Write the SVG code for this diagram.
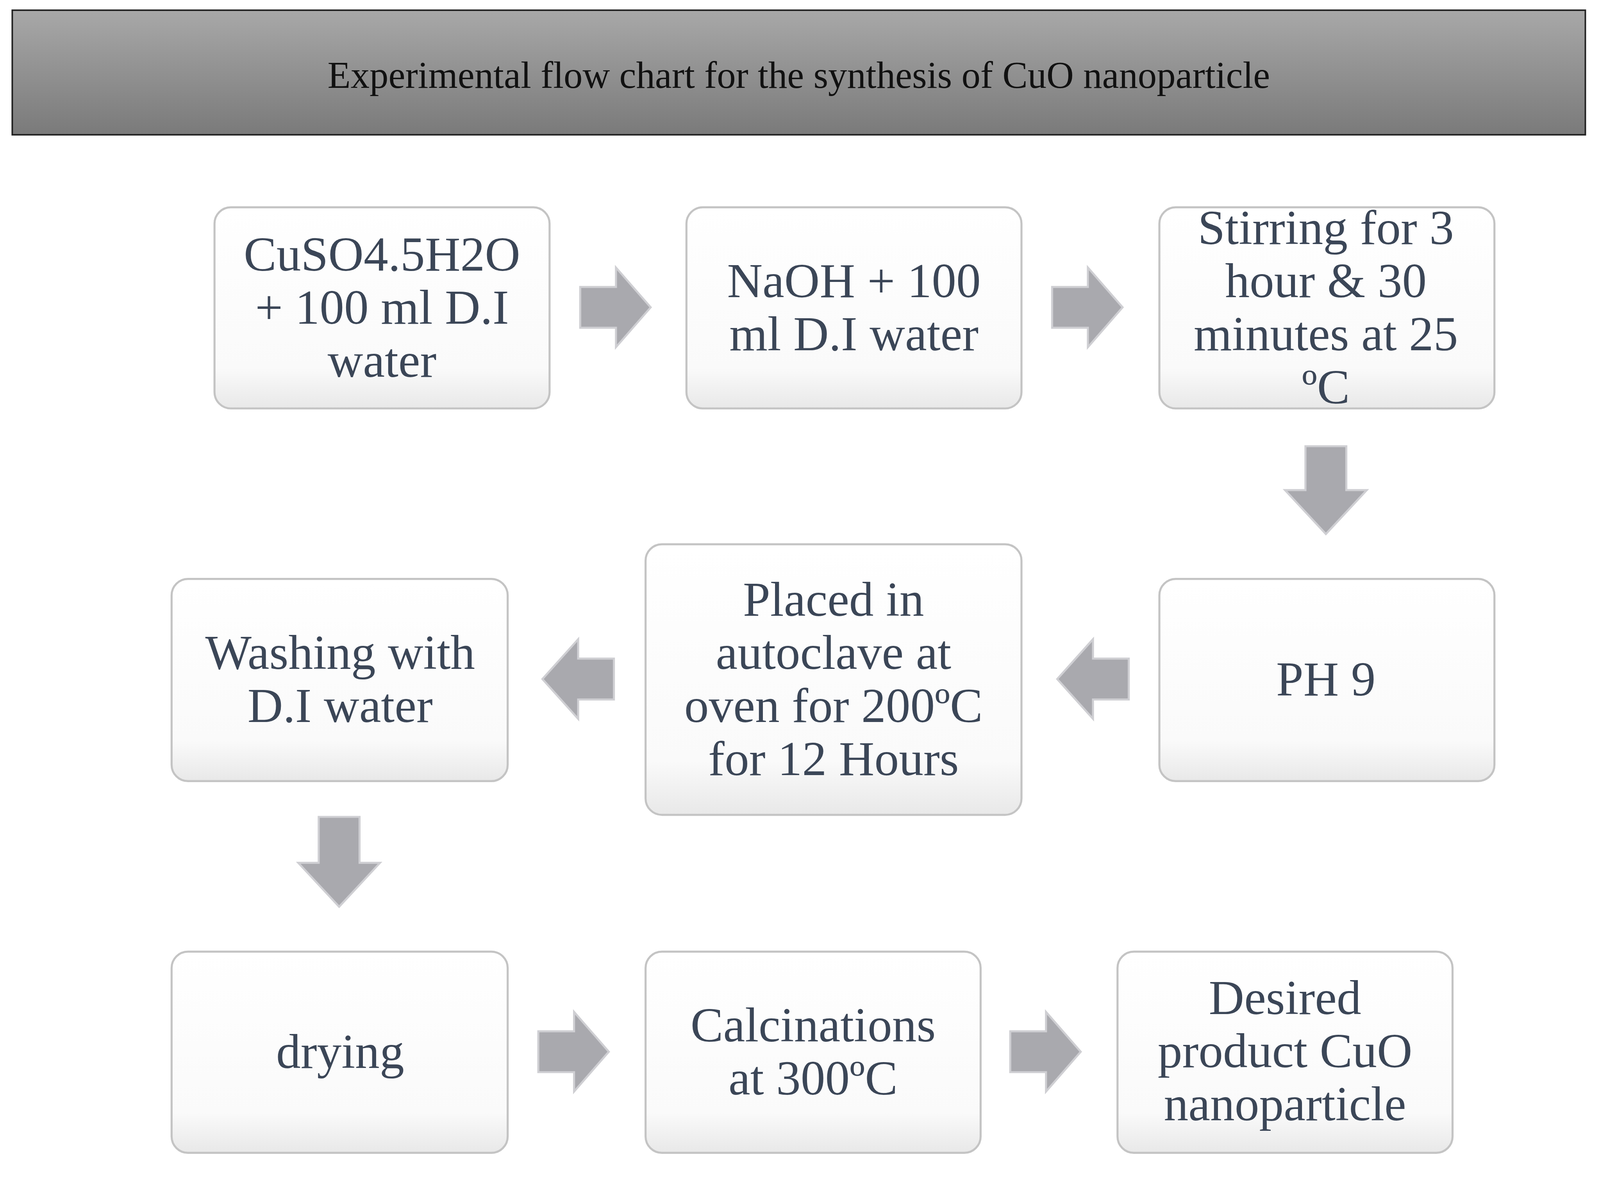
<svg xmlns="http://www.w3.org/2000/svg" width="4151" height="3045" viewBox="0 0 4151 3045">
<defs>
<linearGradient id="tg" x1="0" y1="0" x2="0" y2="1"><stop offset="0" stop-color="#a8a8a8"/><stop offset="1" stop-color="#7a7a7a"/></linearGradient>
<linearGradient id="bg" x1="0" y1="0" x2="0" y2="1"><stop offset="0" stop-color="#ffffff"/><stop offset="0.8" stop-color="#fafafa"/><stop offset="1" stop-color="#e8e8e8"/></linearGradient>
<style>
.box{fill:url(#bg);stroke:#c4c4c4;stroke-width:2}
.t{font-family:"Liberation Serif",serif;font-size:48px;fill:#3b4657;text-anchor:middle}
.ar{fill:#a9a9ae;stroke:#cfcfd3;stroke-width:2}
</style>
</defs>
<rect width="4151" height="3045" fill="#fff"/>
<g transform="scale(2.615 2.615)">
<g id="title"><rect x="12" y="10" width="1540" height="122" fill="url(#tg)" stroke="#222" stroke-width="1.5"/>
<text x="782" y="86" font-family="Liberation Serif,serif" font-size="37" fill="#111" text-anchor="middle">Experimental flow chart for the synthesis of CuO nanoparticle</text></g>
<g id="n1"><rect class="box" x="210" y="203" width="328" height="197" rx="16"/><text class="t" x="374" y="265">CuSO4.5H2O</text><text class="t" x="374" y="317">+ 100 ml D.I</text><text class="t" x="374" y="369">water</text></g>
<g id="n2"><rect class="box" x="672" y="203" width="328" height="197" rx="16"/><text class="t" x="836" y="291">NaOH + 100</text><text class="t" x="836" y="343">ml D.I water</text></g>
<g id="n3"><rect class="box" x="1135" y="203" width="328" height="197" rx="16"/><text class="t" x="1298" y="239">Stirring for 3</text><text class="t" x="1298" y="291">hour &amp; 30</text><text class="t" x="1298" y="343">minutes at 25</text><text class="t" x="1298" y="395">ºC</text></g>
<g id="n4"><rect class="box" x="1135" y="567" width="328" height="198" rx="16"/><text class="t" x="1298" y="681">PH 9</text></g>
<g id="n5"><rect class="box" x="632" y="533" width="368" height="265" rx="16"/><text class="t" x="816" y="603">Placed in</text><text class="t" x="816" y="655">autoclave at</text><text class="t" x="816" y="707">oven for 200ºC</text><text class="t" x="816" y="759">for 12 Hours</text></g>
<g id="n6"><rect class="box" x="168" y="567" width="329" height="198" rx="16"/><text class="t" x="333" y="655">Washing with</text><text class="t" x="333" y="707">D.I water</text></g>
<g id="n7"><rect class="box" x="168" y="932" width="329" height="197" rx="16"/><text class="t" x="333" y="1046">drying</text></g>
<g id="n8"><rect class="box" x="632" y="932" width="328" height="197" rx="16"/><text class="t" x="796" y="1020">Calcinations</text><text class="t" x="796" y="1072">at 300ºC</text></g>
<g id="n9"><rect class="box" x="1094" y="932" width="328" height="197" rx="16"/><text class="t" x="1258" y="993">Desired</text><text class="t" x="1258" y="1045">product CuO</text><text class="t" x="1258" y="1097">nanoparticle</text></g>
<g id="connectors">
<path class="ar" d="M568 281H603V262L637 301L603 340V321H568Z"/>
<path class="ar" d="M1030 281H1065V262L1099 301L1065 340V321H1030Z"/>
<path class="ar" d="M1278 437H1318V480H1338L1298 523L1258 480H1278Z"/>
<path class="ar" d="M1105 645H1070V626L1035 665L1070 704V685H1105Z"/>
<path class="ar" d="M601 645H566V626L531 665L566 704V685H601Z"/>
<path class="ar" d="M312 800H352V845H372L332 888L292 845H312Z"/>
<path class="ar" d="M527 1010H562V991L596 1030L562 1069V1050H527Z"/>
<path class="ar" d="M989 1010H1024V991L1058 1030L1024 1069V1050H989Z"/>
</g>
</g>
</svg>
